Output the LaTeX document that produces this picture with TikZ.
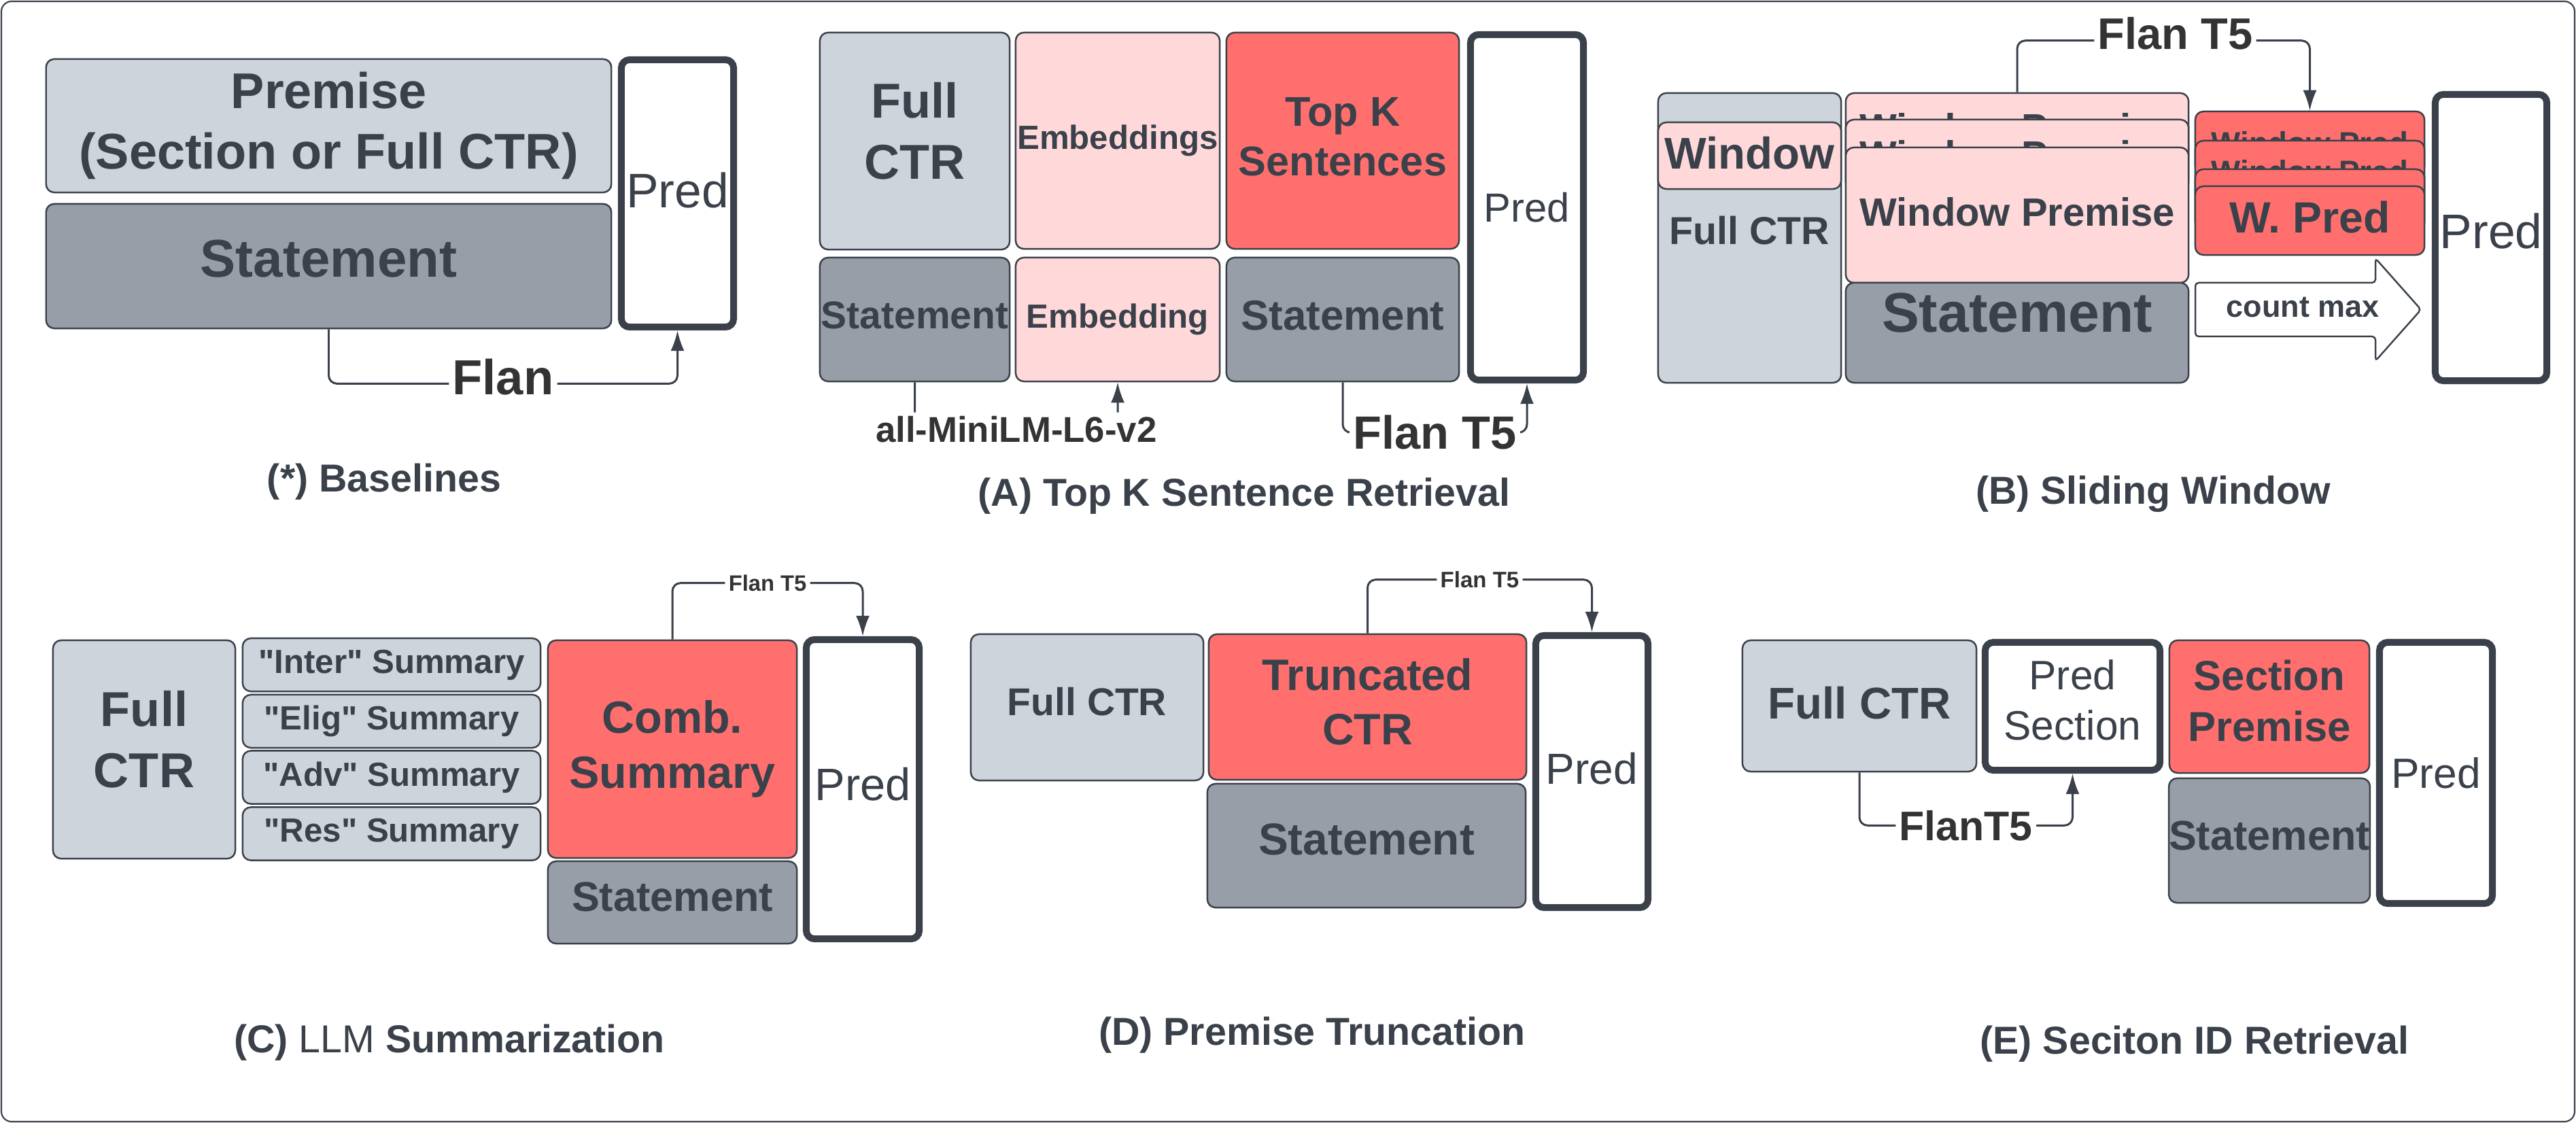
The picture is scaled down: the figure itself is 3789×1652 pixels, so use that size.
\documentclass[tikz,border=0pt]{standalone}
\usepackage{fontspec}
\defaultfontfeatures[\rmfamily,\sffamily]{}
\setmainfont{Liberation Sans}
\usepackage{tikz}
\usetikzlibrary{arrows.meta}
\definecolor{ink}{HTML}{3A414A}
\definecolor{lblink}{HTML}{333333}
\definecolor{ctrfill}{HTML}{CED4DC}
\definecolor{stmfill}{HTML}{979EA8}
\definecolor{pinkfill}{HTML}{FFD9DA}
\definecolor{redfill}{HTML}{FF6F6E}
\newcommand{\fsz}[2]{\fontsize{#1}{#2}\selectfont}
\tikzset{
  box/.style = {draw=ink, line width=0.7pt, rounded corners=0.12cm, text=ink, align=center, inner sep=0pt},
  ctr/.style = {box, fill=ctrfill},
  stm/.style = {box, fill=stmfill},
  pnk/.style = {box, fill=pinkfill},
  hot/.style = {box, fill=redfill},
  predbox/.style = {draw=ink, line width=2.85pt, rounded corners=0.12cm, fill=white, text=ink, align=center, inner sep=0pt},
  wh/.style 2 args = {minimum width=#1cm, minimum height=#2cm},
  flow/.style = {draw=ink, line width=0.85pt, rounded corners=0.12cm, -{Latex[length=0.3cm, width=0.2cm]}},
  flowlbl/.style = {fill=white, text=lblink, inner sep=1.5pt},
  caption/.style = {text=ink, font=\fsz{16.3}{20}\bfseries}
}
\begin{document}
\begin{tikzpicture}[x=0.01cm, y=-0.01cm]
\useasboundingbox (0,0) rectangle (3789,1652);
\draw[draw=ink, line width=0.6pt, rounded corners=0.15cm] (2,2) rectangle (3787,1650);
% (*) baselines
\node[ctr, wh={8.31}{1.96}, font=\fsz{21}{25.2}\bfseries] (premBase) at (483.5,185) {Premise\\(Section or Full CTR)};
\node[stm, wh={8.31}{1.83}, text depth=0.23cm, font=\fsz{22.2}{26}\bfseries] (stmtBase) at (483.5,391.5) {Statement};
\node[predbox, wh={1.65}{3.93}, text depth=0.1cm, font=\fsz{20.3}{24}] (predBase) at (996.5,284.5) {Pred};
\draw[flow] (stmtBase.south) -- ++(0,80) -| node[flowlbl, pos=0.25, yshift=0.1cm, font=\fsz{20.6}{24}\bfseries] {Flan} (predBase.south);
\node[caption] (capBase) at (565,709) {(*) Baselines};
% (A) top k
\node[ctr, wh={2.79}{3.19}, text depth=0.3cm, font=\fsz{20.5}{25.4}\bfseries] (fullTop) at (1345.5,207.5) {Full\\CTR};
\node[pnk, wh={3.00}{3.18}, font=\fsz{14}{17}\bfseries] (embsTop) at (1644,207) {Embeddings};
\node[hot, wh={3.42}{3.18}, text depth=0.12cm, font=\fsz{17.4}{21}\bfseries] (sentTop) at (1975,207) {Top K\\Sentences};
\node[stm, wh={2.79}{1.82}, text depth=0.12cm, font=\fsz{16.2}{19}\bfseries] (stmtTop) at (1345.5,470) {Statement};
\node[pnk, wh={3.00}{1.82}, font=\fsz{14}{17}\bfseries] (embTop) at (1644,470) {Embedding};
\node[stm, wh={3.42}{1.82}, text depth=0.12cm, font=\fsz{17.6}{21}\bfseries] (stmtTopK) at (1975,470) {Statement};
\node[predbox, wh={1.66}{5.08}, font=\fsz{17}{20}] (predTop) at (2246,305) {Pred};
\draw[flow] (stmtTop.south) -- ++(0,69) -| node[flowlbl, pos=0.25, font=\fsz{15}{18}\bfseries] {all-MiniLM-L6-v2} (embTop.south);
\draw[flow] (stmtTopK.south) -- ++(0,74) -| node[flowlbl, pos=0.25, font=\fsz{19.5}{23}\bfseries] {Flan T5} (predTop.south);
\node[caption] (capTop) at (1830,730) {(A) Top K Sentence Retrieval};
% (B) sliding window
\node[ctr, wh={2.69}{4.26}, text depth=0.22cm, font=\fsz{16.3}{20}\bfseries] (fullSlide) at (2573.5,350) {Full CTR};
\node[pnk, wh={2.69}{0.98}, text depth=0.08cm, font=\fsz{18.6}{22}\bfseries] (winSlide) at (2573.5,229) {Window};
\node[pnk, wh={5.04}{1.02}, font=\fsz{16.5}{20}\bfseries] (wpA) at (2967,188) {Window Premise};
\node[pnk, wh={5.04}{1.04}, font=\fsz{16.5}{20}\bfseries] (wpB) at (2967,228) {Window Premise};
\node[pnk, wh={5.04}{1.99}, text depth=0.1cm, font=\fsz{16.5}{20}\bfseries] (wpC) at (2967,316.5) {Window Premise};
\node[stm, wh={5.04}{1.47}, text depth=0.6cm, font=\fsz{23.4}{28}\bfseries] (stmtSlide) at (2967,489.5) {Statement};
\node[hot, wh={3.37}{0.92}, font=\fsz{13}{16}\bfseries] (wpredA) at (3397.5,210) {Window Pred};
\node[hot, wh={3.37}{0.90}, font=\fsz{13}{16}\bfseries] (wpredB) at (3397.5,252) {Window Pred};
\node[hot, wh={3.37}{0.90}] (wpredC) at (3397.5,294) {};
\node[hot, wh={3.37}{1.01}, text depth=0.1cm, font=\fsz{18.3}{22}\bfseries] (wpredD) at (3397.5,324.5) {W. Pred};
\draw[flow] (wpA.north) -- ++(0,-76) -| node[flowlbl, pos=0.27, yshift=0.1cm, font=\fsz{18.5}{22}\bfseries] {Flan T5} (wpredA.north);
\coordinate (cntTail) at (3229,455.5);
\draw[draw=ink, line width=0.7pt, fill=white, rounded corners=0.05cm] ([yshift=0.395cm]cntTail) -- ++(265,0) -- ++(0,-36) -- ++(67,75.5) -- ++(-67,75.5) -- ++(0,-36) -- ++(-265,0) -- cycle;
\node[text=ink, font=\fsz{12.8}{15}\bfseries] (cntSlide) at (3387,452) {count max};
\node[predbox, wh={1.64}{4.21}, text depth=0.2cm, font=\fsz{20.3}{24}] (predSlide) at (3664,349.5) {Pred};
\node[caption] (capSlide) at (3167,727) {(B) Sliding Window};
% (C) summarization
\node[ctr, wh={2.68}{3.21}, text depth=0.3cm, font=\fsz{20.5}{25.8}\bfseries] (fullSum) at (212,1102.5) {Full\\CTR};
\foreach \name/\yy/\txt in {sumA/978/Inter, sumB/1061/Elig, sumC/1143.5/Adv, sumD/1226.5/Res}
  \node[ctr, wh={4.38}{0.78}, font=\fsz{14}{17}\bfseries] (\name) at (576,\yy) {"\txt" Summary};
\node[hot, wh={3.66}{3.20}, font=\fsz{18.9}{23}\bfseries] (combSum) at (989,1102) {Comb.\\Summary};
\node[stm, wh={3.66}{1.21}, text depth=0.16cm, font=\fsz{17.4}{21}\bfseries] (stmtSum) at (989,1327.5) {Statement};
\node[predbox, wh={1.66}{4.40}, text depth=0.16cm, font=\fsz{19}{23}] (predSum) at (1269,1161) {Pred};
\draw[flow] (combSum.north) -- ++(0,-83) -| node[flowlbl, pos=0.25, font=\fsz{9.3}{11}\bfseries] {Flan T5} (predSum.north);
\node[caption] (capSum) at (661,1534) {(C) \mdseries LLM \bfseries Summarization};
% (D) truncation
\node[ctr, wh={3.42}{2.15}, text depth=0.18cm, font=\fsz{16.2}{19}\bfseries] (fullTrunc) at (1599,1040.5) {Full CTR};
\node[hot, wh={4.67}{2.14}, text depth=0.16cm, font=\fsz{18.4}{22.5}\bfseries] (truncTrunc) at (2011.5,1040) {Truncated\\CTR};
\node[stm, wh={4.68}{1.82}, text depth=0.18cm, font=\fsz{18.7}{22}\bfseries] (stmtTrunc) at (2010,1244) {Statement};
\node[predbox, wh={1.65}{4.00}, text depth=0.1cm, font=\fsz{18.2}{22}] (predTrunc) at (2341.5,1135) {Pred};
\draw[flow] (truncTrunc.north) -- ++(0,-79) -| node[flowlbl, pos=0.25, font=\fsz{9.4}{11}\bfseries] {Flan T5} (predTrunc.north);
\node[caption] (capTrunc) at (1930,1523) {(D) Premise Truncation};
% (E) section id
\node[ctr, wh={3.44}{1.93}, text depth=0.1cm, font=\fsz{18.6}{22}\bfseries] (fullSec) at (2735,1038.5) {Full CTR};
\node[predbox, wh={2.57}{1.88}, text depth=0.18cm, font=\fsz{17.2}{21}] (predSec) at (3048.5,1039) {Pred\\Section};
\node[hot, wh={2.94}{1.95}, text depth=0.18cm, font=\fsz{17.5}{21.3}\bfseries] (premSec) at (3338,1039.5) {Section\\Premise};
\node[stm, wh={2.94}{1.83}, text depth=0.14cm, font=\fsz{17.4}{21}\bfseries] (stmtSec) at (3338,1236.5) {Statement};
\node[predbox, wh={1.66}{3.84}, font=\fsz{17.7}{21}] (predSecFinal) at (3583,1137) {Pred};
\draw[flow] (fullSec.south) -- ++(0,78) -| node[flowlbl, pos=0.25, font=\fsz{17.3}{21}\bfseries] {FlanT5} (predSec.south);
\node[caption] (capSec) at (3228,1536) {(E) Seciton ID Retrieval};
\end{tikzpicture}
\end{document}
